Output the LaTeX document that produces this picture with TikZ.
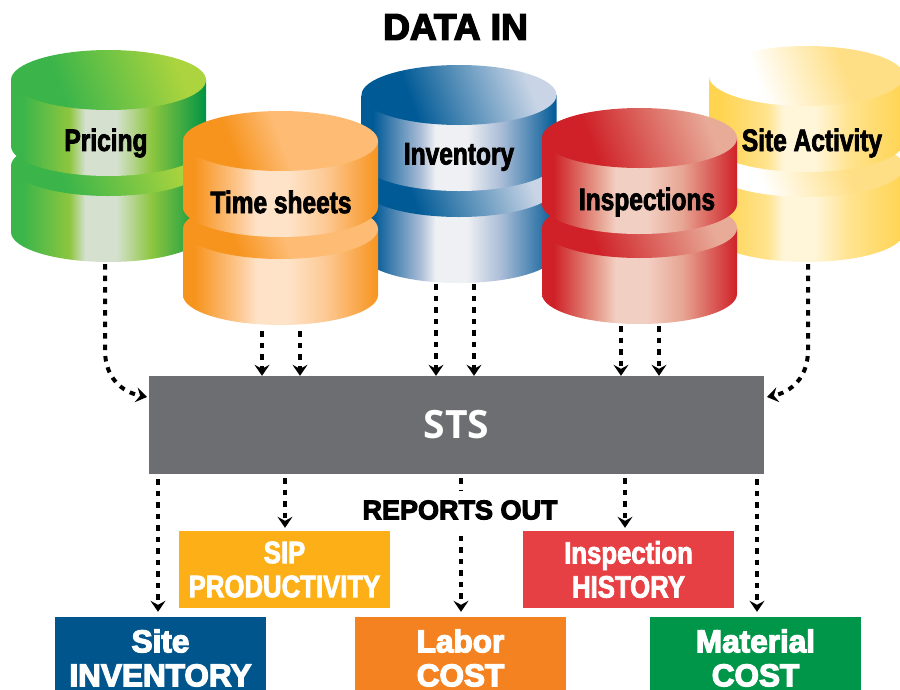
\documentclass[tikz,border=0pt]{standalone}
\usepackage{fontspec}
\usepackage{xcolor}
\usetikzlibrary{arrows.meta,calc}
\newfontfamily\TitleFont[BoldFeatures={FakeBold=4}]{Liberation Sans}
\newfontfamily\DbFont[FakeStretch=.79,BoldFeatures={FakeBold=2.5}]{Liberation Sans}
\newfontfamily\NarrowFont[FakeStretch=.83,BoldFeatures={FakeBold=2.5}]{Liberation Sans}
\newfontfamily\BoxFont{Open Sans}
\definecolor{PricingEdge}{HTML}{3bb54a}
\definecolor{PricingMid}{HTML}{8dc63f}
\definecolor{PricingLight}{HTML}{d5e0cf}
\definecolor{PricingDark}{HTML}{009444}
\definecolor{PricingTop}{HTML}{acd43e}
\definecolor{TimeEdge}{HTML}{f7941e}
\definecolor{TimeMid}{HTML}{fdcb98}
\definecolor{TimeLight}{HTML}{fee3c8}
\definecolor{TimeTop}{HTML}{fdbb73}
\definecolor{StockEdge}{HTML}{005a96}
\definecolor{StockMid}{HTML}{a8bbd6}
\definecolor{StockLight}{HTML}{eff0f3}
\definecolor{StockTop}{HTML}{c9d5e6}
\definecolor{CheckEdge}{HTML}{cf2127}
\definecolor{CheckMid}{HTML}{e7a593}
\definecolor{CheckLight}{HTML}{f2cfc3}
\definecolor{CheckTop}{HTML}{e8ab98}
\definecolor{SiteEdge}{HTML}{ffd451}
\definecolor{SiteMid}{HTML}{ffe38e}
\definecolor{SiteLight}{HTML}{fff6da}
\definecolor{SiteTop}{HTML}{ffdf85}
\definecolor{StsGray}{HTML}{6d6e71}
\definecolor{ReportYellow}{HTML}{fcaf17}
\definecolor{ReportRed}{HTML}{e64044}
\definecolor{ReportBlue}{HTML}{00558c}
\definecolor{ReportOrange}{HTML}{f58220}
\definecolor{ReportGreen}{HTML}{009649}
\newcommand{\DbShades}[8]{%
    \pgfdeclarehorizontalshading{#1Side}{100bp}{color(0bp)=(#2); color(28bp)=(#2); color(40bp)=(#3); color(44bp)=(#4); color(52bp)=(#4); color(61bp)=(#3); color(75bp)=(#5); color(100bp)=(#5)}%
    \pgfdeclarehorizontalshading{#1Cap}{100bp}{color(0bp)=(#6); color(35bp)=(#6); color(#8bp)=(#7); color(100bp)=(#7)}%
}
\DbShades{Pricing}{PricingEdge}{PricingMid}{PricingLight}{PricingDark}{PricingEdge}{PricingTop}{72}
\DbShades{Time}{TimeEdge}{TimeMid}{TimeLight}{TimeEdge}{TimeEdge}{TimeTop}{50}
\DbShades{Stock}{StockEdge}{StockMid}{StockLight}{StockEdge}{StockEdge}{StockTop}{72}
\DbShades{Check}{CheckEdge}{CheckMid}{CheckLight}{CheckEdge}{CheckEdge}{CheckTop}{72}
\DbShades{Site}{SiteEdge}{SiteMid}{SiteLight}{SiteEdge}{white}{SiteTop}{62}
\newcommand{\DbStack}[5]{%
    \begin{scope}[shift={(#2,#3)}]
        \shade[shading=#1Side] (-97.5,#4) -- (-97.5,#5) arc[start angle=180,end angle=360,x radius=97.5pt,y radius=30pt] -- (97.5,#4) -- cycle;
        \shade[shading=#1Cap,shading angle=20] (0,#4) ellipse[x radius=97.5pt,y radius=30pt];
        \shade[shading=#1Side] (-97.5,0) -- (-97.5,66) arc[start angle=180,end angle=360,x radius=97.5pt,y radius=30pt] -- (97.5,0) -- cycle;
        \shade[shading=#1Cap,shading angle=20] (0,0) ellipse[x radius=97.5pt,y radius=30pt];
    \end{scope}
}
\tikzset{
    dbtext/.style={font=\DbFont\bfseries\fontsize{31}{31}\selectfont,text=black,inner sep=0pt},
    reportbox/.style={minimum width=211pt,inner sep=0pt,align=center,text=white},
    upperbox/.style={reportbox,minimum height=77pt,font=\NarrowFont\bfseries\fontsize{31}{34}\selectfont},
    lowerbox/.style={reportbox,minimum height=82pt,font=\TitleFont\bfseries\fontsize{31.5}{34}\selectfont},
    link/.style={line width=4pt,dash pattern=on 5.5pt off 6pt,-{Stealth[length=11pt,width=15pt,inset=4pt,line width=1.5pt]}},
    outlink/.style={link,shorten >=5pt}
}
\begin{document}
\begin{tikzpicture}[x=1pt,y=-1pt]
    \useasboundingbox (0,0) rectangle (900,689);
    \clip (0,0) rectangle (900,689);

    \DbStack{Pricing}{108.5}{80}{86}{152}
    \DbStack{Site}{806.5}{76}{91}{156}
    \DbStack{Stock}{459}{95}{92}{158}
    \DbStack{Time}{280.5}{141}{88}{154}
    \DbStack{Check}{639.5}{138}{90}{156}

    \node[font=\TitleFont\bfseries\fontsize{37}{37}\selectfont,inner sep=0pt] (DataIn) at (455.5,27) {DATA IN};
    \node[dbtext] (Pricing) at (106,143) {Pricing};
    \node[dbtext] (TimeSheets) at (281,202) {Time sheets};
    \node[dbtext] (Inventory) at (459,157) {Inventory};
    \node[dbtext] (Inspections) at (647,202) {Inspections};
    \node[dbtext] (SiteActivity) at (812,143) {Site Activity};

    \node[fill=StsGray,minimum width=615pt,minimum height=98pt,inner sep=0pt,text=white,font=\BoxFont\bfseries\fontsize{39}{39}\selectfont] (STS) at (456.5,425) {\raisebox{-2pt}{STS}};

    \node[upperbox,fill=ReportYellow] (Sip) at (284.5,569.5) {SIP\\PRODUCTIVITY};
    \node[upperbox,fill=ReportRed] (History) at (628.5,569.5) {Inspection\\HISTORY};
    \node[lowerbox,fill=ReportBlue] (SiteBox) at (160.5,658) {Site\\INVENTORY};
    \node[lowerbox,fill=ReportOrange] (Labor) at (460.5,658) {Labor\\COST};
    \node[lowerbox,fill=ReportGreen] (Material) at (755.5,658) {Material\\COST};

    \coordinate (PricingOut) at (105,264);
    \coordinate (SiteOut) at (808,264);
    \coordinate (TimeA) at (262,331);
    \coordinate (TimeB) at (300,331);
    \coordinate (StockA) at (436,284);
    \coordinate (StockB) at (474,284);
    \coordinate (CheckA) at (621,326);
    \coordinate (CheckB) at (659,326);
    \coordinate (StsLeft) at (147,397);
    \coordinate (StsRight) at (767,397);
    \coordinate (OutA) at (158,479);
    \coordinate (OutB) at (285,478);
    \coordinate (OutC) at (461,478);
    \coordinate (OutD) at (625,478);
    \coordinate (OutE) at (757,479);

    \draw[link] (PricingOut) -- (105,350) .. controls (105,378) and (122,392) .. (StsLeft);
    \draw[link] (SiteOut) -- (808,350) .. controls (808,378) and (791,392) .. (StsRight);
    \draw[link] (TimeA) -- (TimeA |- STS.north);
    \draw[link] (TimeB) -- (TimeB |- STS.north);
    \draw[link] (StockA) -- (StockA |- STS.north);
    \draw[link] (StockB) -- (StockB |- STS.north);
    \draw[link] (CheckA) -- (CheckA |- STS.north);
    \draw[link] (CheckB) -- (CheckB |- STS.north);
    \draw[outlink] (OutA) -- (OutA |- SiteBox.north);
    \draw[outlink,shorten >=3pt] (OutB) -- (OutB |- Sip.north);
    \draw[outlink] (OutC) -- (OutC |- Labor.north);
    \draw[outlink,shorten >=3pt] (OutD) -- (OutD |- History.north);
    \draw[outlink] (OutE) -- (OutE |- Material.north);

    \node[fill=white,inner xsep=0pt,minimum height=39pt,font=\TitleFont\bfseries\fontsize{27}{27}\selectfont] (ReportsOut) at (460,510) {REPORTS OUT};
\end{tikzpicture}
\end{document}
